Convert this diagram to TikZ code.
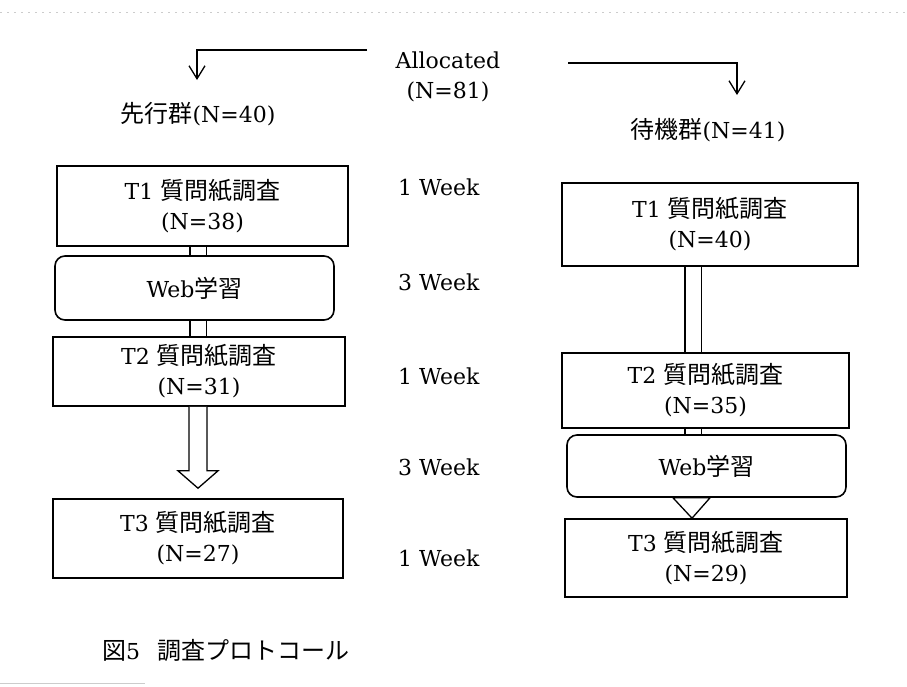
\documentclass[tikz,border=0pt]{standalone}
\usepackage{fontspec}
\setmainfont{DejaVu Serif}
\newfontfamily\jp[Scale=1.09]{Noto Sans CJK JP}
\usetikzlibrary{arrows.meta,calc}
\newcommand\lab{\fontsize{22}{30}\selectfont}
\begin{document}
\begin{tikzpicture}[x=1pt,y=-1pt,
  box/.style={draw, line width=1.6pt, align=center, font=\lab, inner sep=0pt},
  webbox/.style={box, rounded corners=10pt},
  txt/.style={align=center, font=\lab, inner sep=0pt},
  tube/.style={draw, line width=1.3pt, double, double distance=15pt},
  blk/.style={draw, line width=1.3pt, fill=white, line join=miter},
  barb/.style={-{Straight Barb[length=13pt,width=16pt,line width=1.3pt]}, line width=1.4pt}
]
\useasboundingbox (0,0) rectangle (907,686);
\draw[gray!40, line width=0.6pt, dash pattern=on 2pt off 5pt] (0,12) -- (907,12);
\draw[gray!40, line width=0.6pt] (0,683) -- (145,683);

% top labels
\node[txt] (alloc) at (448,77) {Allocated\\(N=81)};
\node[txt] (g1) at (198,114) {{\jp 先行群}(N=40)};
\node[txt] (g2) at (708,130) {{\jp 待機群}(N=41)};

\coordinate (s1) at (367,50);
\coordinate (e1) at (197,80);
\coordinate (s2) at (568,63);
\coordinate (e2) at (737,95);
\draw[barb] (s1) -| (e1);
\draw[barb] (s2) -| (e2);

% left column
\node[box, minimum width=291pt, minimum height=80pt] (l1) at (202.5,206) {T1 {\jp 質問紙調査}\\(N=38)};
\node[webbox, minimum width=279pt, minimum height=64pt] (lw) at (194.5,288) {Web{\jp 学習}};
\node[box, minimum width=292pt, minimum height=69pt] (l2) at (199,371.5) {T2 {\jp 質問紙調査}\\(N=31)};
\node[box, minimum width=290pt, minimum height=79pt] (l3) at (198,538.5) {T3 {\jp 質問紙調査}\\(N=27)};
\coordinate (lx) at (198,0);
\draw[tube] (l1.south -| lx) -- (lw.north -| lx);
\draw[tube] (lw.south -| lx) -- (l2.north -| lx);
\draw[blk] ($(l2.south -| lx)+(-9,0)$) -- ++(0,64) -- ++(-11,0)
  -- ($(l3.north -| lx)+(0,-10)$) -- ($(l2.south -| lx)+(20,64)$) -- ++(-11,0)
  -- ($(l2.south -| lx)+(9,0)$);

% right column
\node[box, minimum width=296pt, minimum height=83pt] (r1) at (710,224.5) {T1 {\jp 質問紙調査}\\(N=40)};
\node[box, minimum width=287pt, minimum height=75pt] (r2) at (705.5,390.5) {T2 {\jp 質問紙調査}\\(N=35)};
\node[webbox, minimum width=279pt, minimum height=62pt] (rw) at (706.5,466) {Web{\jp 学習}};
\node[box, minimum width=282pt, minimum height=78pt] (r3) at (706,558) {T3 {\jp 質問紙調査}\\(N=29)};
\coordinate (rx) at (693,0);
\draw[tube] (r1.south -| rx) -- (r2.north -| rx);
\draw[tube] (r2.south -| rx) -- (rw.north -| rx);
\draw[blk] ($(rw.south -| rx)+(-20,0)$) -- ($(rw.south -| rx)+(17,0)$) -- ($(r3.north -| rx)+(-1,0)$) -- cycle;

% week labels
\node[txt, anchor=west] (w1) at (398,187) {1 Week};
\node[txt, anchor=west] (w2) at (398,282) {3 Week};
\node[txt, anchor=west] (w3) at (398,376) {1 Week};
\node[txt, anchor=west] (w4) at (398,467) {3 Week};
\node[txt, anchor=west] (w5) at (398,558) {1 Week};

% caption
\node[txt, anchor=west] (cap) at (102,650) {{\jp 図}5\hspace{0.8em}{\jp 調査プロトコール}};
\end{tikzpicture}
\end{document}
